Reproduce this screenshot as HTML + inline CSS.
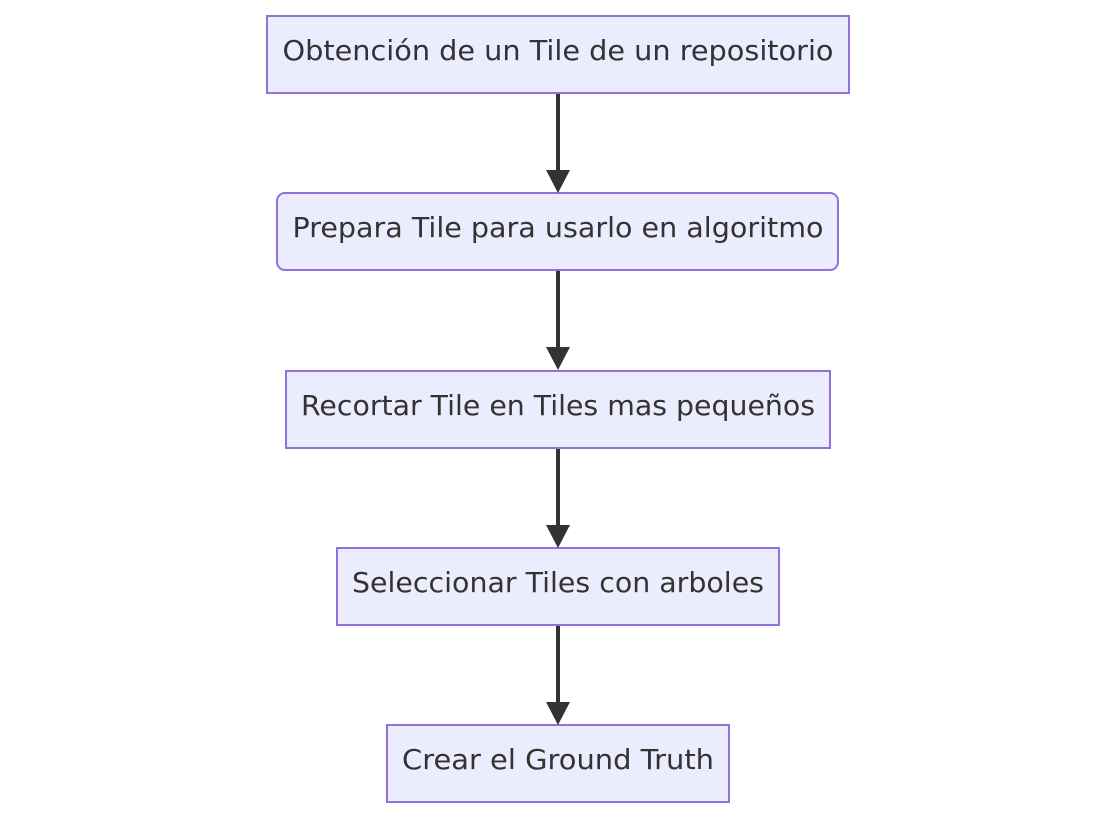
<!DOCTYPE html>
<html><head><meta charset="utf-8"><style>html,body{margin:0;padding:0;background:#fff}</style></head>
<body>
<svg width="1116" height="819" viewBox="0 0 1116 819" xmlns="http://www.w3.org/2000/svg">
<g fill="#ECECFF" stroke="#9370DB" stroke-width="2">
<rect x="267" y="16" width="582" height="77"/>
<rect x="277" y="193" width="561" height="77" rx="8" ry="8"/>
<rect x="286" y="371" width="544" height="77"/>
<rect x="337" y="548" width="442" height="77"/>
<rect x="387" y="725" width="342" height="77"/>
</g>
<g stroke="#333" stroke-width="4">
<line x1="558" y1="94" x2="558" y2="175"/>
<line x1="558" y1="271" x2="558" y2="352"/>
<line x1="558" y1="449" x2="558" y2="530"/>
<line x1="558" y1="626" x2="558" y2="707"/>
</g>
<g fill="#333">
<path d="M546,170 L570,170 L558,193 Z"/>
<path d="M546,347 L570,347 L558,370 Z"/>
<path d="M546,525 L570,525 L558,548 Z"/>
<path d="M546,702 L570,702 L558,725 Z"/>
</g>
<g font-family="'DejaVu Sans', 'Liberation Sans', sans-serif" font-size="28" fill="#333" text-anchor="middle">
<text x="558" y="60" textLength="551" lengthAdjust="spacingAndGlyphs">Obtención de un Tile de un repositorio</text>
<text x="558" y="237" textLength="531" lengthAdjust="spacingAndGlyphs">Prepara Tile para usarlo en algoritmo</text>
<text x="558" y="415" textLength="514" lengthAdjust="spacingAndGlyphs">Recortar Tile en Tiles mas pequeños</text>
<text x="558" y="592" textLength="412" lengthAdjust="spacingAndGlyphs">Seleccionar Tiles con arboles</text>
<text x="558" y="769" textLength="312" lengthAdjust="spacingAndGlyphs">Crear el Ground Truth</text>
</g>
</svg>
</body></html>
